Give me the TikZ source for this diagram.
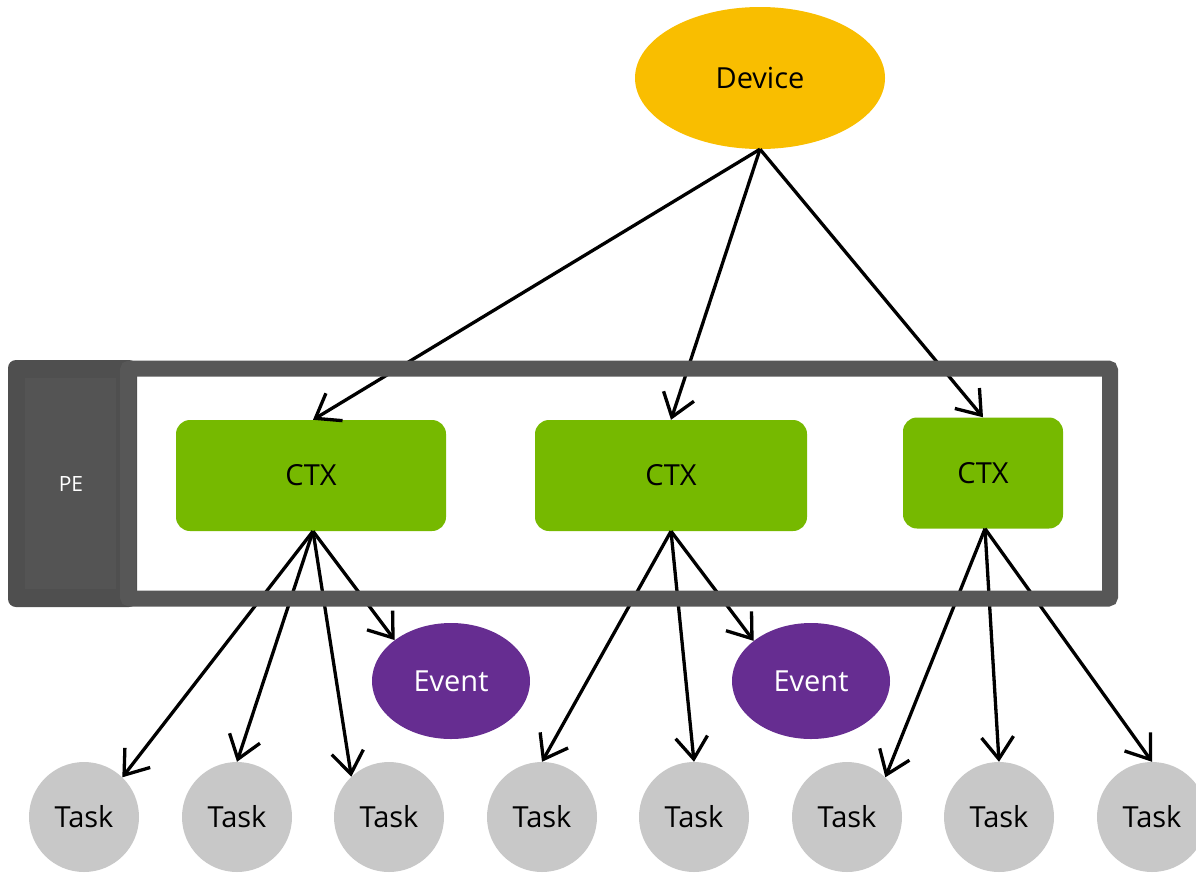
\documentclass[tikz,border=0pt]{standalone}
\usepackage{fontspec}
\setmainfont{Open Sans}
\usetikzlibrary{arrows.meta,shapes.geometric}
\definecolor{devyellow}{HTML}{F9BE00}
\definecolor{nvgreen}{HTML}{76B900}
\definecolor{evpurple}{HTML}{662D91}
\definecolor{taskgray}{HTML}{C8C8C8}
\definecolor{framegray}{HTML}{575757}
\definecolor{pedark}{HTML}{4F4F4F}
\definecolor{pemid}{HTML}{545454}
\begin{document}
\begin{tikzpicture}[x=1pt,y=-1pt,
  lbl/.style={font=\fontsize{29}{34}\selectfont},
  devnode/.style={ellipse, fill=devyellow, draw=none, inner sep=0pt, minimum width=250pt, minimum height=142pt, lbl},
  ctxnode/.style={rectangle, rounded corners=14pt, fill=nvgreen, draw=none, inner sep=0pt, minimum height=111pt, lbl},
  evnode/.style={ellipse, fill=evpurple, draw=none, inner sep=0pt, minimum width=158pt, minimum height=116pt, text=white, lbl},
  tasknode/.style={circle, fill=taskgray, draw=none, inner sep=0pt, minimum size=110pt, lbl},
  arr/.style={draw=black, line width=3.3pt, -{Straight Barb[length=22pt,width=32pt,line width=3.3pt]}},
]
\useasboundingbox (0,0) rectangle (1196,873);

% nodes
\node[devnode] (dev) at (760,78) {Device};
\node[ctxnode, minimum width=270pt] (ctx1) at (311,475.5) {CTX};
\node[ctxnode, minimum width=272pt] (ctx2) at (671,475.5) {CTX};
\node[ctxnode, minimum width=160pt] (ctx3) at (983,473) {CTX};
\node[evnode] (ev1) at (451,681) {Event};
\node[evnode] (ev2) at (811,681) {Event};
\node[tasknode] (t1) at (84,817) {Task};
\node[tasknode] (t2) at (237,817) {Task};
\node[tasknode] (t3) at (389,817) {Task};
\node[tasknode] (t4) at (542,817) {Task};
\node[tasknode] (t5) at (694,817) {Task};
\node[tasknode] (t6) at (847,817) {Task};
\node[tasknode] (t7) at (999,817) {Task};
\node[tasknode] (t8) at (1152,817) {Task};

% start points
\coordinate (s1) at ([xshift=2pt]ctx1.south);
\coordinate (s2) at (ctx2.south);
\coordinate (s3) at ([xshift=2pt]ctx3.south);

% connectors
\draw[arr] (dev.south) -- ([xshift=2pt]ctx1.north);
\draw[arr] (dev.south) -- (ctx2.north);
\draw[arr] (dev.south) -- (ctx3.north);

\draw[arr] (s1) -- (t1.46);
\draw[arr] (s1) -- (t2.north);
\draw[arr] (s1) -- (t3.133);
\draw[arr] (s1) -- (ev1.144);

\draw[arr] (s2) -- (t4.north);
\draw[arr] (s2) -- (t5.north);
\draw[arr] (s2) -- (ev2.145);

\draw[arr] (s3) -- (t6.46);
\draw[arr] (s3) -- (t7.north);
\draw[arr] (s3) -- (t8.north);

% PE frame (drawn over the connectors)
\fill[pedark, rounded corners=8pt] (8,360) rectangle (137,607);
\fill[pemid] (25,378) rectangle (116,589);
\node[font=\fontsize{21}{25}\selectfont, text=white] (pe) at (71,484) {PE};
\draw[framegray, line width=16pt, rounded corners=2pt] (128,368.5) rectangle (1110,598.5);
\end{tikzpicture}
\end{document}
